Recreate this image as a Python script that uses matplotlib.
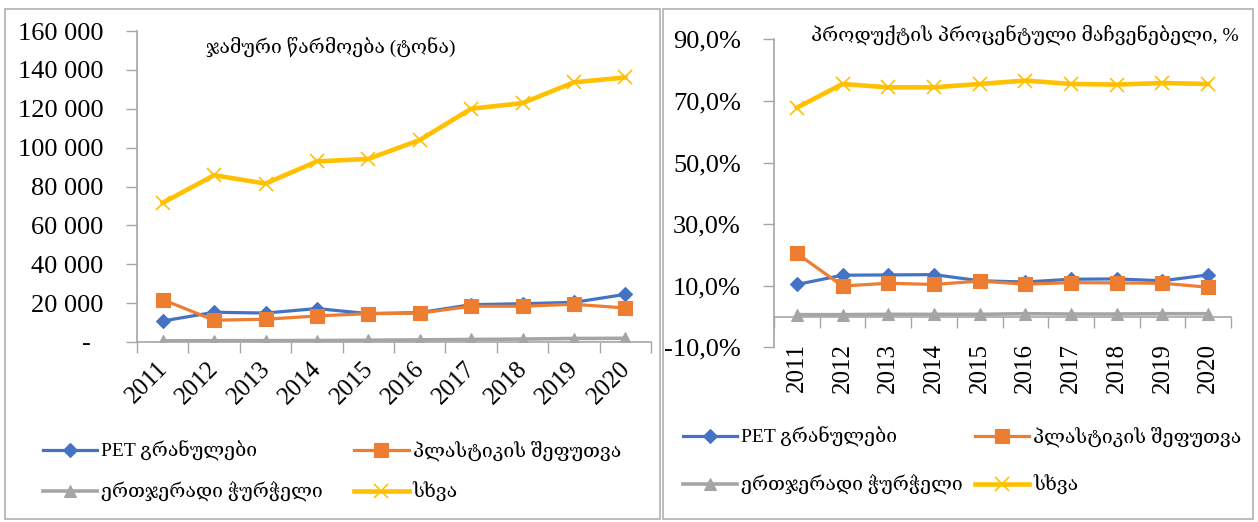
# python3

import matplotlib.pyplot as plt
from matplotlib.patches import Rectangle
from matplotlib.transforms import ScaledTranslation
from matplotlib.ticker import FuncFormatter, MultipleLocator, FixedLocator

years = ['2011', '2012', '2013', '2014', '2015', '2016', '2017', '2018', '2019', '2020']

series_names = ['PET გრანულები', 'პლასტიკის შეფუთვა', 'ერთჯერადი ჭურჭელი', 'სხვა']

# production, tonnes
pet_tonnes = [10800, 15300, 14900, 17200, 14600, 15100, 19200, 19700, 20400, 24500]
packaging_tonnes = [21800, 11200, 11700, 13400, 14600, 14800, 18400, 18400, 19400, 17500]
disposable_tonnes = [600, 650, 700, 750, 900, 1100, 1300, 1500, 1800, 1900]
other_tonnes = [71600, 85800, 81500, 92900, 94200, 103900, 120000, 122900, 133600, 136100]

# share of total, %
pet_pct = [10.4, 13.4, 13.5, 13.6, 11.6, 11.2, 12.1, 12.2, 11.6, 13.5]
packaging_pct = [20.5, 9.9, 10.8, 10.4, 11.5, 10.5, 11.0, 10.9, 10.8, 9.5]
disposable_pct = [0.6, 0.6, 0.7, 0.7, 0.7, 0.9, 0.8, 0.8, 0.9, 0.9]
other_pct = [67.8, 75.5, 74.4, 74.4, 75.5, 76.6, 75.5, 75.3, 75.8, 75.5]

title_left = 'ჯამური წარმოება (ტონა)'
title_right = 'პროდუქტის პროცენტული მაჩვენებელი, %'

colors = ['#4472C4', '#ED7D31', '#A5A5A5', '#FFC000']
markers = ['D', 's', '^', 'x']
msizes = [7, 10, 9, 10]
lwidths = [2.3, 2.3, 2.6, 3.3]

serif = ['Liberation Serif', 'DejaVu Serif']
axis_grey = '#a6a6a6'

W, H = 1258, 522
fig = plt.figure(figsize=(W / 100, H / 100), dpi=100)

# panel frames
fig.patches.append(Rectangle((5 / W, 1 - 519 / H), 655 / W, 510 / H, transform=fig.transFigure,
                             fill=False, edgecolor='#b0b0b0', linewidth=1.2))
fig.patches.append(Rectangle((663 / W, 1 - 519 / H), 590 / W, 510 / H, transform=fig.transFigure,
                             fill=False, edgecolor='#b0b0b0', linewidth=1.2))

ax1 = fig.add_axes([137 / W, 1 - 342 / H, 514 / W, 311 / H])
ax2 = fig.add_axes([774 / W, 1 - 347.3 / H, 457 / W, 308 / H])

x = list(range(len(years)))


def draw(ax, data):
    lines = []
    for vals, c, m, ms, lw, name in zip(data, colors, markers, msizes, lwidths, series_names):
        ln, = ax.plot(x, vals, color=c, marker=m, markersize=ms, linewidth=lw,
                      markeredgewidth=1.2 if m == 'x' else 0.8, label=name)
        lines.append(ln)
    ax.set_xlim(-0.5, len(years) - 0.5)
    ax.set_xticks(x)
    ax.xaxis.set_minor_locator(FixedLocator([i - 0.5 for i in range(len(years) + 1)]))
    ax.tick_params(axis='x', which='major', length=0)
    ax.tick_params(axis='x', which='minor', length=8, color=axis_grey, width=1)
    ax.tick_params(axis='y', length=8, color=axis_grey, width=1, pad=16)
    for s in ['top', 'right']:
        ax.spines[s].set_visible(False)
    for s in ['left', 'bottom']:
        ax.spines[s].set_color(axis_grey)
        ax.spines[s].set_linewidth(1.2)
    ax.set_facecolor('none')
    return lines


lines1 = draw(ax1, [pet_tonnes, packaging_tonnes, disposable_tonnes, other_tonnes])
ax1.set_ylim(0, 160000)
ax1.yaxis.set_major_locator(MultipleLocator(20000))
ax1.yaxis.set_major_formatter(FuncFormatter(
    lambda v, p: '-  ' if v == 0 else '{:,.0f}'.format(v).replace(',', ' ')))
ax1.set_xticklabels(years, rotation=45, ha='right', va='top', family=serif, fontsize=18)
ax1.tick_params(axis='x', which='major', pad=11)
shift = ScaledTranslation(9 / 100, 0, fig.dpi_scale_trans)
for lb in ax1.get_xticklabels():
    lb.set_transform(lb.get_transform() + shift)
for lb in ax1.get_yticklabels():
    lb.set_family(serif)
    lb.set_fontsize(19)

lines2 = draw(ax2, [pet_pct, packaging_pct, disposable_pct, other_pct])
ax2.set_ylim(-10, 90)
ax2.yaxis.set_major_locator(FixedLocator([-10, 10, 30, 50, 70, 90]))
ax2.yaxis.set_major_formatter(FuncFormatter(lambda v, p: '{:.1f}%'.format(v).replace('.', ',')))
ax2.spines['bottom'].set_position(('data', 0))
ax2.set_xticklabels(years, rotation=90, ha='center', va='top', family=serif, fontsize=18)
ax2.tick_params(axis='x', which='major', pad=19)
for lb in ax2.get_yticklabels():
    lb.set_family(serif)
    lb.set_fontsize(19)

fig.text(331 / W, 1 - 47 / H, title_left, ha='center', va='center', family=serif, fontsize=14)
fig.text(1025 / W, 1 - 35 / H, title_right, ha='center', va='center', family=serif, fontsize=14)

order = [0, 2, 1, 3]
fig.legend([lines1[i] for i in order], [series_names[i] for i in order], ncol=2,
           loc='center left', bbox_to_anchor=(43 / W, 1 - 471.5 / H), frameon=False,
           borderpad=0, borderaxespad=0, handlelength=2.8, handletextpad=0.2,
           labelspacing=1.05, columnspacing=1.6, prop={'family': serif, 'size': 14})
fig.legend([lines2[i] for i in order], [series_names[i] for i in order], ncol=2,
           loc='center left', bbox_to_anchor=(683 / W, 1 - 461 / H), frameon=False,
           borderpad=0, borderaxespad=0, handlelength=2.8, handletextpad=0.2,
           labelspacing=1.45, columnspacing=0.6, prop={'family': serif, 'size': 14})

fig.savefig('out.png', dpi=100)
